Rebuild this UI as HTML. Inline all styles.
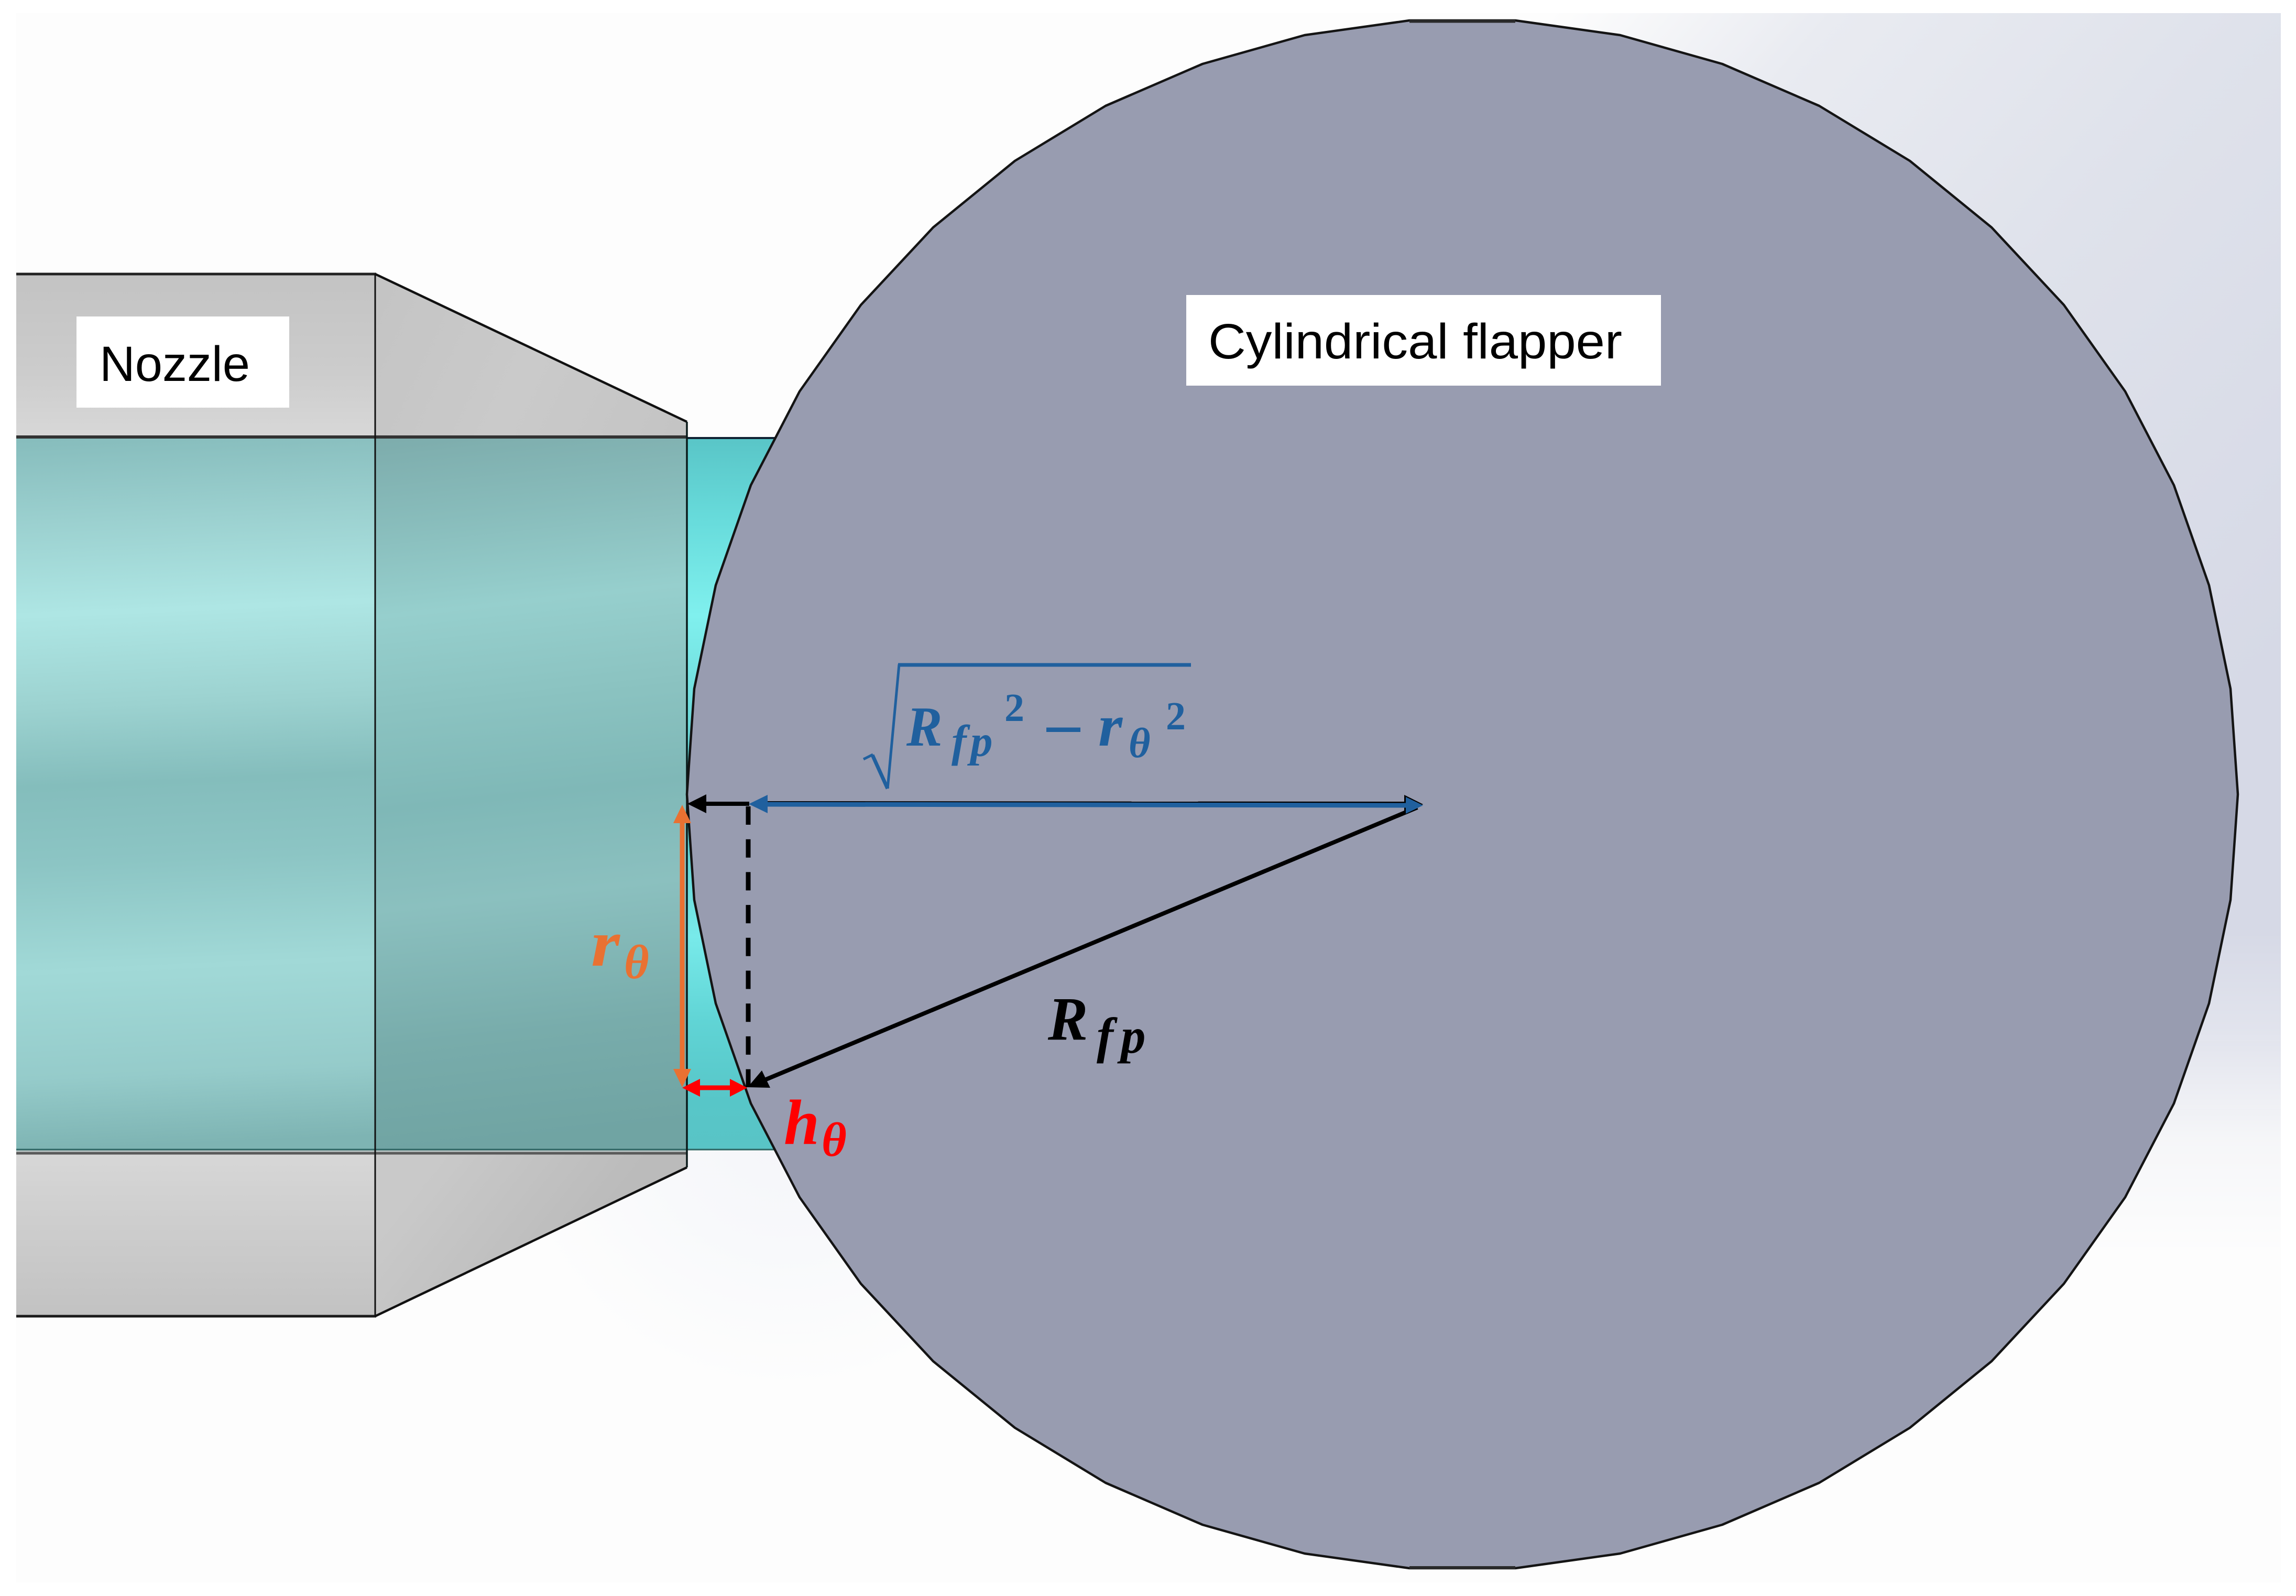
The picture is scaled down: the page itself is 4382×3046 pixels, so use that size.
<!DOCTYPE html>
<html><head><meta charset="utf-8"><title>Nozzle and cylindrical flapper</title>
<style>html,body{margin:0;padding:0;background:#fff}svg{display:block}text{font-family:"Liberation Serif",serif;font-weight:bold;font-style:italic}.lab{font-family:"Liberation Sans",sans-serif;font-weight:normal;font-style:normal;font-size:95px;fill:#000}.n{font-style:normal}</style></head>
<body>
<svg xmlns="http://www.w3.org/2000/svg" width="4382" height="3046" viewBox="0 0 4382 3046">
<defs>
<linearGradient id="bg" gradientUnits="userSpaceOnUse" x1="2900" y1="100" x2="4300" y2="1300">
<stop offset="0" stop-color="#fdfdfd"/><stop offset=".22" stop-color="#e9ebf1"/><stop offset=".55" stop-color="#dfe2eb"/><stop offset="1" stop-color="#d6d9e6"/>
</linearGradient>
<linearGradient id="fade" gradientUnits="userSpaceOnUse" x1="0" y1="1400" x2="0" y2="2450">
<stop offset=".36" stop-color="#fff" stop-opacity="1"/><stop offset=".54" stop-color="#fff" stop-opacity=".72"/><stop offset=".74" stop-color="#fff" stop-opacity=".18"/><stop offset=".95" stop-color="#fff" stop-opacity="0"/>
</linearGradient>
<mask id="fm" maskUnits="userSpaceOnUse" x="0" y="0" width="4382" height="3046"><rect width="4382" height="3046" fill="url(#fade)"/></mask>
<radialGradient id="low" gradientUnits="userSpaceOnUse" cx="1500" cy="2130" r="520"><stop offset=".1" stop-color="#f5f6fa"/><stop offset=".5" stop-color="#f8f9fb"/><stop offset="1" stop-color="#fdfdfd"/></radialGradient>
<linearGradient id="tA" gradientUnits="userSpaceOnUse" x1="31" y1="835" x2="90" y2="2195">
<stop offset="0" stop-color="#86bcbc"/><stop offset=".12" stop-color="#9bd0cf"/><stop offset=".25" stop-color="#aee6e4"/><stop offset=".38" stop-color="#9cd2d0"/><stop offset=".49" stop-color="#84bdbc"/><stop offset=".6" stop-color="#8cc5c4"/><stop offset=".75" stop-color="#a1d9d7"/><stop offset=".9" stop-color="#95cbca"/><stop offset="1" stop-color="#7eb4b3"/>
</linearGradient>
<linearGradient id="tB" gradientUnits="userSpaceOnUse" x1="716" y1="835" x2="860" y2="2190">
<stop offset="0" stop-color="#7dacac"/><stop offset=".12" stop-color="#88bcbb"/><stop offset=".25" stop-color="#96cfcd"/><stop offset=".38" stop-color="#8bc3c1"/><stop offset=".52" stop-color="#7fb8b7"/><stop offset=".66" stop-color="#8bc0bf"/><stop offset=".85" stop-color="#78acab"/><stop offset="1" stop-color="#70a4a3"/>
</linearGradient>
<linearGradient id="tC" gradientUnits="userSpaceOnUse" x1="0" y1="835" x2="0" y2="2195">
<stop offset="0" stop-color="#59c5c7"/><stop offset=".12" stop-color="#68dcdc"/><stop offset=".25" stop-color="#80f0ee"/><stop offset=".4" stop-color="#6bd8d8"/><stop offset=".52" stop-color="#5cc8c9"/><stop offset=".7" stop-color="#78eaea"/><stop offset=".82" stop-color="#60d4d5"/><stop offset=".93" stop-color="#57c6c8"/><stop offset="1" stop-color="#59c4c6"/>
</linearGradient>
<linearGradient id="gA" gradientUnits="userSpaceOnUse" x1="0" y1="525" x2="0" y2="835"><stop offset="0" stop-color="#c3c3c3"/><stop offset=".6" stop-color="#cccccc"/><stop offset="1" stop-color="#d8d8d8"/></linearGradient>
<linearGradient id="gB" gradientUnits="userSpaceOnUse" x1="716" y1="560" x2="1300" y2="835"><stop offset="0" stop-color="#c4c4c4"/><stop offset=".5" stop-color="#cacaca"/><stop offset="1" stop-color="#c4c4c4"/></linearGradient>
<linearGradient id="gC" gradientUnits="userSpaceOnUse" x1="0" y1="2202" x2="0" y2="2512"><stop offset="0" stop-color="#d7d7d7"/><stop offset=".5" stop-color="#cccccc"/><stop offset="1" stop-color="#c2c2c2"/></linearGradient>
<linearGradient id="gD" gradientUnits="userSpaceOnUse" x1="850" y1="2200" x2="1090" y2="2390"><stop offset="0" stop-color="#c9c9c9"/><stop offset="1" stop-color="#bbbbbb"/></linearGradient>
</defs>

<rect width="4382" height="3046" fill="#fff"/>
<rect x="31" y="25" width="4322" height="2995" fill="#fdfdfd"/>
<rect x="2700" y="25" width="1653" height="2995" fill="url(#bg)" mask="url(#fm)"/>
<rect x="980" y="2197" width="1040" height="460" fill="url(#low)"/>

<!-- nozzle body -->
<rect x="31" y="523" width="685" height="312" fill="url(#gA)"/>
<polygon points="716,523 1311,805 1311,835 716,835" fill="url(#gB)"/>
<rect x="31" y="2202" width="685" height="310" fill="url(#gC)"/>
<polygon points="716,2202 1311,2202 1311,2228 716,2512" fill="url(#gD)"/>
<rect x="31" y="835" width="685" height="1360" fill="url(#tA)"/>
<rect x="716" y="835" width="595" height="1360" fill="url(#tB)"/>
<rect x="1311" y="835" width="200" height="1360" fill="url(#tC)"/>

<!-- nozzle lines -->
<rect x="31" y="2195" width="1280" height="4" fill="#b9c4c4"/>
<line x1="31" y1="523" x2="718" y2="523" stroke="#222" stroke-width="5"/>
<line x1="31" y1="834" x2="1311" y2="834" stroke="#333" stroke-width="6"/>
<line x1="1311" y1="836" x2="1490" y2="836" stroke="#123" stroke-width="4"/>
<line x1="31" y1="2194" x2="1490" y2="2194" stroke="#2f6664" stroke-width="3"/>
<line x1="31" y1="2201" x2="1311" y2="2201" stroke="#5a5a5a" stroke-width="5"/>
<line x1="31" y1="2512" x2="718" y2="2512" stroke="#1a1a1a" stroke-width="5"/>
<line x1="716" y1="523" x2="716" y2="2512" stroke="#111" stroke-width="3"/>
<line x1="716" y1="523" x2="1311" y2="805" stroke="#111" stroke-width="4.5"/>
<line x1="716" y1="2512" x2="1311" y2="2228" stroke="#111" stroke-width="4.5"/>
<line x1="1311" y1="805" x2="1311" y2="2228" stroke="#0a1a1a" stroke-width="3.5"/>

<!-- flapper -->
<polygon fill="#989cb0" stroke="#141414" stroke-width="4.5" stroke-linejoin="round" points="4271,1516 4257,1314.5 4216,1117 4149,926 4056,747 3939,582 3801,434 3645,307 3472,202 3287,122 3092,67 2892,39 2690,39 2490,67 2295,122 2110,202 1937,307 1781,434 1643,582 1526,747 1433,926 1366,1117 1325,1314.5 1311,1516 1325,1717.5 1366,1915 1433,2106 1526,2285 1643,2450 1781,2598 1937,2725 2110,2830 2295,2910 2490,2965 2690,2993 2892,2993 3092,2965 3287,2910 3472,2830 3645,2725 3801,2598 3939,2450 4056,2285 4149,2106 4216,1915 4257,1717.5"/>
<line x1="2690" y1="40.5" x2="2892" y2="40.5" stroke="#2a2a2a" stroke-width="6"/>
<line x1="2690" y1="2992" x2="2892" y2="2992" stroke="#2a2a2a" stroke-width="6"/>

<!-- label boxes -->
<rect x="146" y="604" width="406" height="174" fill="#fff"/>
<text class="lab" x="190" y="727" textLength="287" lengthAdjust="spacingAndGlyphs">Nozzle</text>
<rect x="2264" y="563" width="906" height="173" fill="#fff"/>
<text class="lab" x="2306" y="684" textLength="790" lengthAdjust="spacingAndGlyphs">Cylindrical flapper</text>

<!-- black dimension lines -->
<line x1="1345" y1="1534" x2="1430" y2="1534" stroke="#000" stroke-width="8"/>
<polygon points="1312,1534 1348,1516 1348,1552" fill="#000"/>
<line x1="1428" y1="1539" x2="1428" y2="2075" stroke="#000" stroke-width="9" stroke-dasharray="35 27.7"/>
<line x1="1464" y1="1533" x2="2690" y2="1534" stroke="#000" stroke-width="8"/>
<polygon points="2716,1535 2680,1517 2680,1553" fill="#000"/>
<line x1="2705" y1="1541" x2="1455" y2="2063" stroke="#000" stroke-width="8"/>
<polygon points="1427,2075 1454,2043 1470,2076" fill="#000"/>

<!-- blue arrow -->
<line x1="1460" y1="1535" x2="2688" y2="1537" stroke="#20609e" stroke-width="9"/>
<polygon points="1429,1534.5 1465,1517 1465,1552" fill="#20609e"/>
<polygon points="2716,1537 2683,1521 2683,1553" fill="#20609e"/>

<!-- orange arrow -->
<line x1="1302" y1="1565" x2="1302" y2="2045" stroke="#e97132" stroke-width="9"/>
<polygon points="1302,1536 1285,1571 1319,1571" fill="#e97132"/>
<polygon points="1302,2075 1285,2040 1319,2040" fill="#e97132"/>

<!-- red arrow -->
<line x1="1330" y1="2076" x2="1400" y2="2076" stroke="#ff0000" stroke-width="9"/>
<polygon points="1302,2076 1336,2059 1336,2093" fill="#ff0000"/>
<polygon points="1426,2076 1393,2059 1393,2093" fill="#ff0000"/>

<!-- sqrt formula -->
<g stroke="#20609e" fill="none">
<line x1="1648" y1="1449" x2="1666" y2="1440" stroke-width="5"/>
<line x1="1665" y1="1441" x2="1694" y2="1505" stroke-width="7"/>
<line x1="1694" y1="1505" x2="1716" y2="1268" stroke-width="5"/>
<line x1="1714" y1="1269" x2="2273" y2="1269" stroke-width="7"/>
</g>
<g fill="#20609e">
<text transform="translate(1730 1423) scale(.95 1)" font-size="108">R</text>
<text x="1816" y="1443" font-size="86">f</text>
<text x="1852" y="1443" font-size="85">p</text>
<text class="n" x="1917" y="1376" font-size="76">2</text>
<rect x="1997" y="1388.5" width="65" height="8.5"/>
<text transform="translate(2096 1423) scale(1.05 1)" font-size="113">r</text>
<text x="2154" y="1445" font-size="80">θ</text>
<text class="n" x="2225" y="1392" font-size="76">2</text>
</g>

<!-- R_fp -->
<text transform="translate(2000 1984) scale(.97 1)" font-size="118" fill="#000">R</text>
<text x="2093" y="2009" font-size="96" fill="#000">f</text>
<text x="2139" y="2009" font-size="95" fill="#000">p</text>

<!-- r_theta -->
<g fill="#e97132">
<text transform="translate(1128 1843) scale(1.12 1)" font-size="126">r</text>
<text x="1191" y="1867" font-size="92">θ</text>
</g>

<!-- h_theta -->
<g fill="#ff0000">
<text x="1496" y="2183" font-size="122">h</text>
<text x="1568" y="2206" font-size="92">θ</text>
</g>
</svg>
</body></html>
